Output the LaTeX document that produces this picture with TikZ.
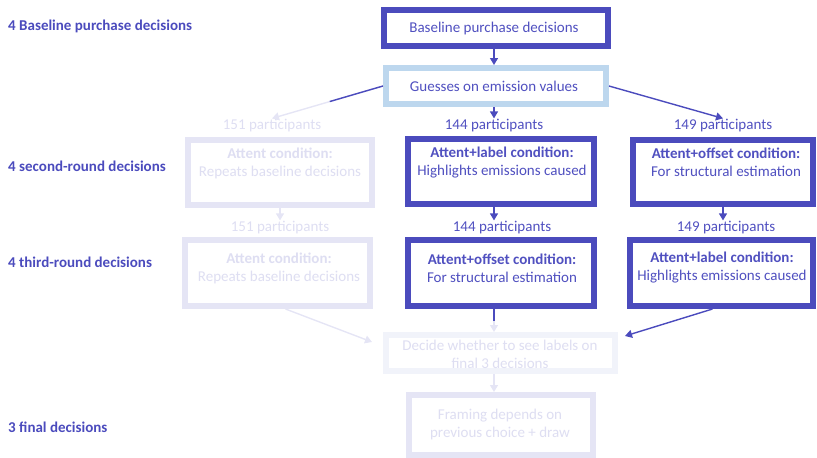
\documentclass[tikz,border=0pt]{standalone}
\usepackage{fontspec}
\setmainfont{Carlito}
\usetikzlibrary{arrows.meta,calc}
\definecolor{dk}{HTML}{4B4BBD}
\definecolor{dkt}{HTML}{5050C0}
\definecolor{fd}{HTML}{E5E5F5}
\definecolor{fdt}{HTML}{DEDEF2}
\definecolor{fdd}{HTML}{F1F3FA}
\definecolor{lb}{HTML}{BDD7EE}
\begin{document}
\begin{tikzpicture}[x=1pt,y=-1pt,
  box/.style={draw=dk, line width=6pt, fill=white, inner sep=0pt, outer sep=3pt},
  fbox/.style={box, draw=fd},
  txt/.style={font=\fontsize{15}{18}\selectfont, text=dkt, align=center, inner sep=1pt},
  ftxt/.style={txt, text=fdt},
  side/.style={font=\fontsize{15}{16}\selectfont\bfseries, text=dk, anchor=west, inner sep=0pt},
  arr/.style={-{Triangle[length=7pt,width=8pt]}, line width=1.4pt, draw=dk},
  farr/.style={arr, draw=fd}
]
\useasboundingbox (0,0) rectangle (817,458);
% side labels
\node[side] (s1) at (8,26) {4 Baseline purchase decisions};
\node[side] (s2) at (8,166) {4 second-round decisions};
\node[side] (s3) at (8,262) {4 third-round decisions};
\node[side] (s4) at (8,427) {3 final decisions};
% top boxes
\node[box, minimum width=224pt, minimum height=36pt] (b1) at (496,28) {};
\node[txt] (b1t) at (494,28) {Baseline purchase decisions};
\node[box, draw=lb, minimum width=220pt, minimum height=36pt] (gu) at (496,86) {};
\node[txt] (gut) at (494,86) {Guesses on emission values};
% participant labels
\node[ftxt] (p1L) at (272,126) {151 participants};
\node[txt] (p1M) at (494,126) {144 participants};
\node[txt] (p1R) at (723,126) {149 participants};
\node[ftxt] (p2L) at (280,228) {151 participants};
\node[txt] (p2M) at (502,228) {144 participants};
\node[txt] (p2R) at (726,228) {149 participants};
% second round
\node[fbox, minimum width=184pt, minimum height=65pt] (L2) at (280,172.5) {};
\node[ftxt] (L2t) at (280,163) {\textbf{Attent condition:}\\Repeats baseline decisions};
\node[box, minimum width=186pt, minimum height=65pt] (M2) at (501,171.5) {};
\node[txt] (M2t) at (502,163) {\textbf{Attent+label condition:}\\Highlights emissions caused};
\node[box, minimum width=180pt, minimum height=64pt] (R2) at (723,172) {};
\node[txt] (R2t) at (726,162) {\textbf{Attent+offset condition:}\\For structural estimation};
% third round
\node[fbox, minimum width=185pt, minimum height=66pt] (L3) at (277.5,273) {};
\node[ftxt] (L3t) at (279,268) {\textbf{Attent condition:}\\Repeats baseline decisions};
\node[box, minimum width=186pt, minimum height=66pt] (M3) at (501,273) {};
\node[txt] (M3t) at (502,268) {\textbf{Attent+offset condition:}\\For structural estimation};
\node[box, minimum width=183pt, minimum height=66pt] (R3) at (721.5,273) {};
\node[txt] (R3t) at (722,268) {\textbf{Attent+label condition:}\\Highlights emissions caused};
% final
\node[box, draw=fdd, minimum width=229pt, minimum height=36pt] (Dc) at (500.5,353) {};
\node[ftxt] (Dct) at (500,354) {Decide whether to see labels on\\final 3 decisions};
\node[fbox, minimum width=184pt, minimum height=60pt] (Fr) at (501,425) {};
\node[ftxt] (Frt) at (500,424) {Framing depends on\\previous choice + draw};
% connectors
\draw[arr] (b1.south -| p1M) -- (gu.north -| p1M);
\draw[arr] (gu.south -| p1M) -- (p1M.north);
\draw[arr] (gu.east) -- (p1R.north);
\draw[farr] (gu.west) -- (p1L.north);
\draw[arr, -] (gu.west) -- ($(gu.west)!0.48!(p1L.north)$) coordinate (gL);
\draw[farr] (L2.south) -- (L2.south |- p2L.north);
\draw[arr] (M2.south -| p1M) -- (p2M.north -| p1M);
\draw[arr] (R2.south) -- (R2.south |- p2R.north);
\draw[farr] (M3.south -| p1M) -- (Dc.north -| p1M);
\draw[arr, -] (M3.south -| p1M) -- ($(M3.south -| p1M)+(0,12)$) coordinate (mD);
\draw[farr] ($(L3.south)+(8,0)$) -- ($(Dc.west)+(-11,-11)$);
\draw[arr] ($(R3.south)+(-9,0)$) -- ($(Dc.east)+(7,-17)$);
\draw[farr] (Dc.south -| p1M) -- (Fr.north -| p1M);
\end{tikzpicture}
\end{document}
